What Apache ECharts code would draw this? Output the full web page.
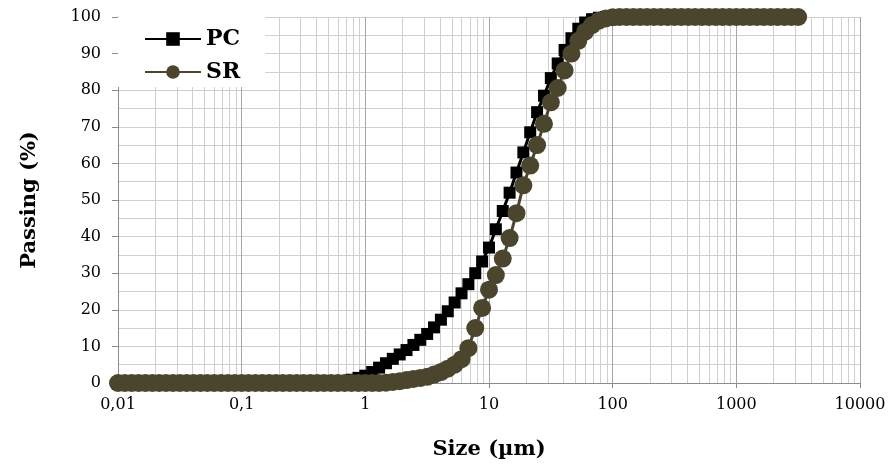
<!DOCTYPE html>
<html>
<head>
<meta charset="utf-8">
<script src="https://cdn.jsdelivr.net/npm/echarts@6/dist/echarts.min.js"></script>
<style>
	html, body { margin: 0; padding: 0; background: #fff; }
	#chart { width: 889px; height: 465px; }
</style>
</head>
<body>
<div id="chart"></div>
<script>
// particle size classes (µm)
var sizes = [
	0.01, 0.01136, 0.01292, 0.01468, 0.01668, 0.01896, 0.02154, 0.02448, 0.02783, 0.03162,
	0.03594, 0.04084, 0.04642, 0.05275, 0.05995, 0.06813, 0.07743, 0.08799,
	0.1, 0.1136, 0.1292, 0.1468, 0.1668, 0.1896, 0.2154, 0.2448, 0.2783, 0.3162,
	0.3594, 0.4084, 0.4642, 0.5275, 0.5995, 0.6813, 0.7743, 0.8799,
	1, 1.136, 1.292, 1.468, 1.668, 1.896, 2.154, 2.448, 2.783, 3.162,
	3.594, 4.084, 4.642, 5.275, 5.995, 6.813, 7.743, 8.799,
	10, 11.36, 12.92, 14.68, 16.68, 18.96, 21.54, 24.48, 27.83, 31.62,
	35.94, 40.84, 46.42, 52.75, 59.95, 68.13, 77.43, 87.99,
	100, 113.6, 129.2, 146.8, 166.8, 189.6, 215.4, 244.8, 278.3, 316.2,
	359.4, 408.4, 464.2, 527.5, 599.5, 681.3, 774.3, 879.9,
	1000, 1136, 1292, 1468, 1668, 1896, 2154, 2448, 2783, 3162
];

// cumulative passing (%) - PC
var pc = [
	0, 0, 0, 0, 0, 0, 0, 0, 0, 0,
	0, 0, 0, 0, 0, 0, 0, 0,
	0, 0, 0, 0, 0, 0, 0, 0, 0, 0,
	0, 0, 0, 0, 0, 0.5, 0.9, 1.4,
	2.0, 3.0, 4.2, 5.4, 6.6, 7.8, 9.0, 10.4, 11.8, 13.4,
	15.2, 17.3, 19.6, 22.0, 24.5, 27.0, 30.0, 33.2,
	37.0, 42.0, 47.0, 52.0, 57.5, 63.0, 68.5, 74.0, 78.5, 83.3,
	87.3, 91.0, 94.2, 96.8, 98.5, 99.4, 99.8, 100,
	100, 100, 100, 100, 100, 100, 100, 100, 100, 100,
	100, 100, 100, 100, 100, 100, 100, 100,
	100, 100, 100, 100, 100, 100, 100, 100, 100, 100
];

// cumulative passing (%) - SR
var sr = [
	0, 0, 0, 0, 0, 0, 0, 0, 0, 0,
	0, 0, 0, 0, 0, 0, 0, 0,
	0, 0, 0, 0, 0, 0, 0, 0, 0, 0,
	0, 0, 0, 0, 0, 0, 0, 0,
	0, 0, 0, 0.1, 0.3, 0.5, 0.8, 1.1, 1.4, 1.7,
	2.3, 3.0, 3.9, 5.0, 6.5, 9.5, 15.0, 20.5,
	25.5, 29.5, 34.0, 39.6, 46.4, 54.0, 59.4, 65.0, 70.8, 76.7,
	80.6, 85.4, 90.0, 93.5, 96.0, 97.8, 99.0, 99.6,
	99.9, 100, 100, 100, 100, 100, 100, 100, 100, 100,
	100, 100, 100, 100, 100, 100, 100, 100,
	100, 100, 100, 100, 100, 100, 100, 100, 100, 100
];

var seriesNames = ['PC', 'SR'];
var xTicks = {0.01: '0,01', 0.1: '0,1', 1: '1', 10: '10', 100: '100', 1000: '1000', 10000: '10000'};
var decades = [0.01, 0.1, 1, 10, 100, 1000];

function pairs(ys) {
	var out = [];
	for (var i = 0; i < sizes.length; i++) out.push([sizes[i], ys[i]]);
	return out;
}

// log minor grid: 2..9 x each decade
function minorLines() {
	var out = [];
	decades.forEach(function(d) {
		for (var m = 2; m <= 9; m++) out.push({ xAxis: +(d * m).toPrecision(3) });
	});
	return out;
}

window.onload = function() {
	var c = echarts.init(document.getElementById('chart'));
	var font = 'DejaVu Serif';
	var e = {
		animation: false,
		grid: { left: 118, right: 29, top: 17, bottom: 82 },
		legend: {
			data: seriesNames,
			orient: 'vertical',
			left: 118,
			top: 17,
			padding: [11, 25, 4, 26],
			backgroundColor: '#fff',
			itemWidth: 56,
			itemHeight: 17,
			itemGap: 11,
			textStyle: { fontFamily: font, fontWeight: 'bold', fontSize: 22, color: '#000' }
		},
		xAxis: {
			type: 'log',
			logBase: 10,
			min: 0.01,
			max: 10000,
			splitNumber: 6,
			name: 'Size (µm)',
			nameLocation: 'middle',
			nameGap: 56,
			nameTextStyle: { fontFamily: font, fontWeight: 'bold', fontSize: 21, color: '#000' },
			axisLine: { lineStyle: { color: '#8c8c8c', width: 1 } },
			axisTick: { show: true, length: 5, lineStyle: { color: '#8c8c8c' } },
			axisLabel: {
				margin: 14,
				fontFamily: font, fontSize: 16, color: '#000',
				formatter: function(v) { return xTicks[v] !== undefined ? xTicks[v] : ''; }
			},
			splitLine: { show: true, lineStyle: { color: '#a6a6a6', width: 1 } }
		},
		yAxis: {
			type: 'value',
			min: 0,
			max: 100,
			interval: 10,
			name: 'Passing (%)',
			nameLocation: 'middle',
			nameGap: 78,
			nameTextStyle: { fontFamily: font, fontWeight: 'bold', fontSize: 21, color: '#000' },
			axisLine: { show: true, lineStyle: { color: '#8c8c8c', width: 1 } },
			axisTick: { show: true, length: 6, lineStyle: { color: '#8c8c8c' } },
			axisLabel: { margin: 17, fontFamily: font, fontSize: 16, color: '#000' },
			splitLine: { show: true, lineStyle: { color: '#cfcfcf', width: 1 } },
			minorTick: { show: false, splitNumber: 2 },
			minorSplitLine: { show: true, lineStyle: { color: '#cfcfcf', width: 1 } }
		},
		series: [
			{
				name: 'PC',
				type: 'line',
				data: pairs(pc),
				symbol: 'rect',
				symbolSize: 12,
				showAllSymbol: true,
				itemStyle: { color: '#000' },
				lineStyle: { color: '#000', width: 3 },
				markLine: {
					silent: true,
					z: 1,
					symbol: ['none', 'none'],
					label: { show: false },
					lineStyle: { color: '#cfcfcf', width: 1, type: 'solid' },
					emphasis: { disabled: true },
					data: minorLines()
				}
			},
			{
				name: 'SR',
				type: 'line',
				data: pairs(sr),
				symbol: 'circle',
				symbolSize: 18,
				showAllSymbol: true,
				itemStyle: { color: '#4b452e' },
				lineStyle: { color: '#4b452e', width: 3 }
			}
		]
	};
	c.setOption(e);
};
</script>
</body>
</html>
